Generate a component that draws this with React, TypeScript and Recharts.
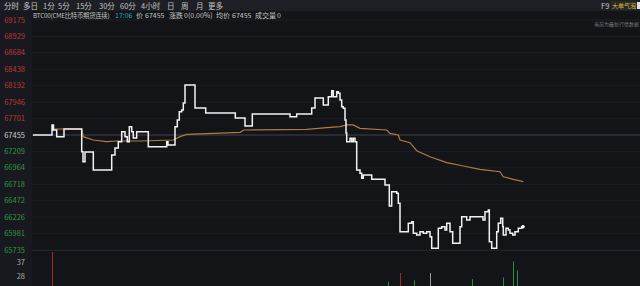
import React from 'react';
import { ComposedChart, Line, XAxis, YAxis, ReferenceLine, BarChart, Bar, Cell, CartesianGrid } from 'recharts';

// time slot index (minutes since open, chart scale) and last price
const priceT = [1, 20, 21.5, 24.7, 32, 49.7, 51, 53, 61.3, 79.7, 83, 86.3, 89.7, 93, 95.3, 97.3, 99.7, 101.3, 104.7, 116.3, 134.7, 136, 143, 145.3, 147.3, 149.7, 151.3, 153, 163, 173.7, 203.3, 213, 220.3, 258, 264.7, 279.7, 283, 291.3, 296.3, 299.7, 301.3, 304.7, 306.3, 308, 309.7, 311.3, 313, 314, 314.7, 318, 319.7, 321.3, 323, 324.7, 328, 329.7, 331.3, 339.7, 353, 357.3, 359.7, 364.7, 366.3, 368, 376.3, 379.7, 381.3, 384.7, 388, 391.3, 394.7, 398, 399.7, 406.3, 409.7, 413, 414.7, 418, 420.7, 428, 429.7, 434.7, 438, 451, 453, 456.3, 457.3, 459.7, 464.7, 466.3, 468.7, 470.7, 471.3, 474, 476.3, 478, 480.7, 483, 486.3, 489.7, 491];
const priceV = [67455, 67605, 67530, 67430, 67545, 67205, 67056, 67201, 66931, 67156, 67260, 67355, 67504, 67430, 67355, 67579, 67504, 67410, 67504, 67280, 67355, 67305, 67579, 67679, 67803, 67829, 67934, 68203, 67859, 67784, 67709, 67590, 67769, 67729, 67769, 67859, 68008, 67904, 68028, 68118, 68028, 68103, 68079, 67978, 67878, 67854, 67679, 67485, 67355, 67406, 67355, 67406, 67355, 66931, 66882, 66807, 66857, 66792, 66707, 66393, 66607, 66583, 66433, 66009, 66134, 66158, 65985, 65959, 66009, 65985, 66009, 65934, 65760, 66060, 66083, 66034, 66134, 66009, 65835, 66083, 66233, 66184, 66233, 66184, 66308, 66333, 65859, 65760, 66009, 66134, 66209, 66083, 65959, 66060, 66034, 65985, 65959, 66009, 66060, 66083, 66083];

// average price
const avgT = [21, 49.7, 51.3, 61.3, 74.7, 84.7, 108, 141.3, 148, 154.7, 208, 212, 274.7, 294.7, 308, 314.7, 321.3, 328, 354.7, 358, 366.3, 368, 378, 381.3, 384.7, 398, 414.7, 431.3, 448, 468, 471.3, 481.3, 491.3];
const avgV = [67545, 67545, 67430, 67380, 67355, 67365, 67365, 67380, 67430, 67465, 67495, 67530, 67540, 67564, 67580, 67605, 67605, 67555, 67530, 67480, 67455, 67380, 67340, 67280, 67220, 67130, 67041, 66991, 66942, 66906, 66831, 66792, 66757];

// volume
const volT = [20, 356, 368, 382, 398, 440, 471, 481, 485];
const volV = [60, 24, 30, 25, 30, 26, 27, 38, 32];
const volDir = ['up', 'down', 'up', 'down', 'flat', 'down', 'down', 'down', 'down'];

const priceTicks = [69175, 68929, 68684, 68438, 68192, 67946, 67701, 67455, 67209, 66964, 66718, 66472, 66226, 65981, 65735];
const volTicks = [28, 37];
const prevClose = 67455;

const tabs = ['分时', '多日', '1分', '5分', '15分', '30分', '60分', '4小时', '日', '周', '月', '更多'];
const tabX = [4, 23, 43, 58, 76, 99, 120, 141, 167, 181, 196, 208];

const infoTexts = ['BTC00(CME比特币期货连续)', '17:06', '价', '67455', '涨跌', '0(0.00%)', '均价', '67455', '成交量', '0'];
const infoX = [33, 115, 136, 145, 169, 184, 216, 232, 255, 277];

const priceData = priceT.map((t, i) => ({ t, v: priceV[i] }));
const avgData = avgT.map((t, i) => ({ t, a: avgV[i] }));
const volData = volT.map((t, i) => ({ t, vol: volV[i], d: volDir[i] }));

const FONT = '"Noto Sans CJK SC", "Noto Sans", sans-serif';

const PriceTick = (props: any) => {
  const { x, y, payload } = props;
  const v = payload.value;
  const color = v > prevClose ? '#b8373a' : v < prevClose ? '#2f9445' : '#c9c9c9';
  return (
    <text x={x} y={y} dy={2.5} textAnchor="end" fontSize={7.5} fill={color} fontFamily={FONT}>
      {v}
    </text>
  );
};

const VolTick = (props: any) => {
  const { x, y, payload } = props;
  return (
    <text x={x} y={y} dy={2.5} textAnchor="end" fontSize={7.5} fill="#a9a9a9" fontFamily={FONT}>
      {payload.value}
    </text>
  );
};

const EndDot = (props: any) => {
  const { cx, cy, index } = props;
  if (index !== priceData.length - 1) return <g key={index} />;
  return <circle key={index} cx={cx} cy={cy} r={1.8} fill="#ffffff" />;
};

export default function App() {
  return (
    <div style={{ position: 'absolute', left: 0, top: 0, width: 640, height: 286, background: '#121418', overflow: 'hidden', fontFamily: FONT }}>
      <div style={{ position: 'absolute', left: 0, top: 0, width: 32, height: 286, background: '#17191e' }} />
      <div style={{ position: 'absolute', left: 0, top: 252, width: 640, height: 34 }}>
        <BarChart width={640} height={34} data={volData} margin={{ top: 0, right: 0, bottom: 0, left: 0 }}>
          <XAxis dataKey="t" type="number" domain={[0, 608]} hide allowDataOverflow />
          <YAxis
            domain={[21.1, 44.6]}
            ticks={volTicks}
            width={32}
            axisLine={false}
            tickLine={false}
            tick={<VolTick />}
            tickMargin={1}
            interval={0}
            allowDataOverflow
          />
          <Bar dataKey="vol" barSize={1} isAnimationActive={false}>
            {volData.map((d, i) => (
              <Cell key={i} fill={d.d === 'up' ? '#a1282e' : d.d === 'down' ? '#2a8a40' : '#9a9a9a'} />
            ))}
          </Bar>
        </BarChart>
      </div>
      <div style={{ position: 'absolute', left: 32, top: 250, width: 608, height: 1, background: '#262930' }} />
      <div style={{ position: 'absolute', left: 0, top: 0, width: 640, height: 258 }}>
        <ComposedChart width={640} height={258} data={priceData} margin={{ top: 20, right: 0, bottom: 8, left: 0 }}>
          <CartesianGrid horizontal vertical={false} stroke="#1b1e24" />
          <XAxis dataKey="t" type="number" domain={[0, 608]} hide allowDataOverflow />
          <YAxis
            domain={[65735, 69175]}
            ticks={priceTicks}
            width={32}
            axisLine={false}
            tickLine={false}
            tick={<PriceTick />}
            tickMargin={1}
            interval={0}
            allowDataOverflow
          />
          <ReferenceLine y={prevClose} stroke="#3c3f47" strokeWidth={1} />
          <Line data={avgData} dataKey="a" type="linear" stroke="#b27a3c" strokeWidth={1.2} dot={false} isAnimationActive={false} />
          <Line data={priceData} dataKey="v" type="stepAfter" stroke="#f2f2f2" strokeWidth={1.5} dot={<EndDot />} isAnimationActive={false} />
        </ComposedChart>
      </div>
      <div style={{ position: 'absolute', left: 0, top: 0, width: 640, height: 11, background: '#1d1f25' }} />
      {tabs.map((s, i) => (
        <div key={s} style={{ position: 'absolute', left: tabX[i], top: 0, fontSize: 7.5, lineHeight: '11px', color: '#c4c4c4', whiteSpace: 'nowrap' }}>{s}</div>
      ))}
      {infoTexts.map((s, i) => (
        <div key={i} style={{ position: 'absolute', left: infoX[i], top: 10, fontSize: i === 0 ? 6.3 : 7, lineHeight: '11px', color: i === 1 ? '#2ea4b2' : '#c4c4c4', whiteSpace: 'nowrap', letterSpacing: i === 0 ? -0.2 : 0 }}>{s}</div>
      ))}
      <div style={{ position: 'absolute', left: 601, top: 0, fontSize: 7.5, lineHeight: '11px', color: '#c4c4c4' }}>F9</div>
      <div style={{ position: 'absolute', left: 611, top: 1, fontSize: 6, lineHeight: '9px', color: '#d7be47', background: '#2a2a22', padding: '0 1px', whiteSpace: 'nowrap' }}>大单气泡</div>
      <div style={{ position: 'absolute', left: 637, top: 2, width: 3, height: 7, background: '#e0e0e0' }} />
      <div style={{ position: 'absolute', left: 594, top: 20, fontSize: 5, lineHeight: '7px', color: '#7a7a7a', whiteSpace: 'nowrap' }}>当前为最新行情数据</div>
    </div>
  );
}
